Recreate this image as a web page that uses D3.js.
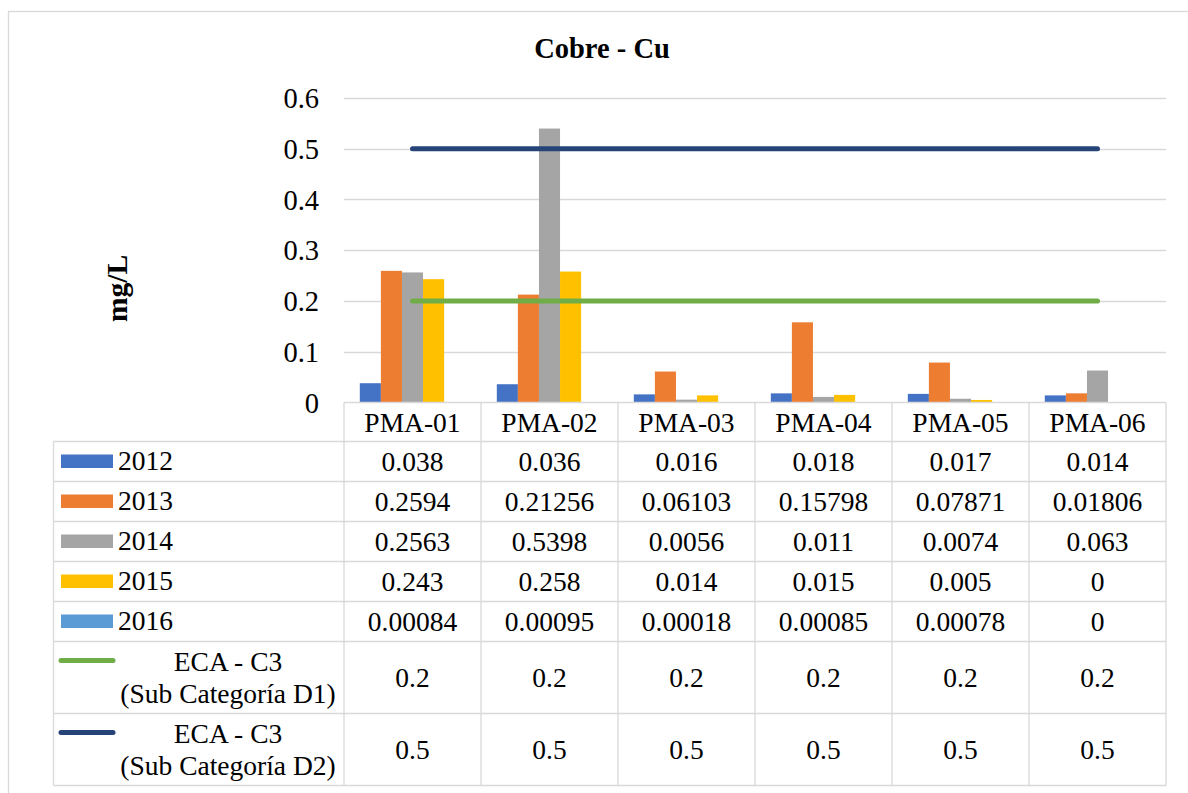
<!DOCTYPE html>
<html>
<head>
<meta charset="utf-8">
<script src="https://cdn.jsdelivr.net/npm/d3@7"></script>
<style>
  html, body { margin: 0; padding: 0; background: #fff; }
  svg { display: block; }
</style>
</head>
<body>
<svg id="chart" width="1188" height="793"></svg>
<script>
// ---- data ----
const categories = ["PMA-01", "PMA-02", "PMA-03", "PMA-04", "PMA-05", "PMA-06"];
const barSeriesNames = ["2012", "2013", "2014", "2015", "2016"];
const s2012 = [0.038, 0.036, 0.016, 0.018, 0.017, 0.014];
const s2013 = [0.2594, 0.21256, 0.06103, 0.15798, 0.07871, 0.01806];
const s2014 = [0.2563, 0.5398, 0.0056, 0.011, 0.0074, 0.063];
const s2015 = [0.243, 0.258, 0.014, 0.015, 0.005, 0];
const s2016 = [0.00084, 0.00095, 0.00018, 0.00085, 0.00078, 0];
const lineSeriesNames = [["ECA - C3", "(Sub Categoría D1)"], ["ECA - C3", "(Sub Categoría D2)"]];
const ecaD1 = [0.2, 0.2, 0.2, 0.2, 0.2, 0.2];
const ecaD2 = [0.5, 0.5, 0.5, 0.5, 0.5, 0.5];
const yTicks = [0, 0.1, 0.2, 0.3, 0.4, 0.5, 0.6];
const title = "Cobre - Cu";
const yLabel = "mg/L";

const barSeries = [s2012, s2013, s2014, s2015, s2016];
const lineSeries = [ecaD1, ecaD2];
const barColors = ["#4472C4", "#ED7D31", "#A5A5A5", "#FFC000", "#5B9BD5"];
const lineColors = ["#70AD47", "#264478"];

// ---- layout ----
const FONT = "Liberation Serif";
const svg = d3.select("#chart");
const plotL = 344, plotR = 1166, plotT = 98, plotB = 402.5;
const gridColor = "#D9D9D9";

function txt(sel) { return sel.style("font-family", FONT).attr("fill", "#000"); }

svg.append("rect").attr("x", 8.5).attr("y", 11.5).attr("width", 1200).attr("height", 800)
  .attr("fill", "#fff").attr("stroke", gridColor).attr("stroke-width", 1.3);

const x0 = d3.scaleBand().domain(categories).range([plotL, plotR]).paddingInner(0).paddingOuter(0);
const x1 = d3.scaleBand().domain(barSeriesNames).range([0, x0.bandwidth()]).paddingInner(0).paddingOuter(0.75);
const y = d3.scaleLinear().domain([0, 0.6]).range([plotB, plotT]);

// title
txt(svg.append("text")).attr("x", 602).attr("y", 58).attr("text-anchor", "middle")
  .attr("font-weight", "bold").attr("font-size", 28.5).text(title);

// y label
txt(svg.append("text")).attr("transform", "translate(127,288.5) rotate(-90)")
  .attr("text-anchor", "middle").attr("font-weight", "bold").attr("font-size", 29.5).text(yLabel);

// gridlines
svg.append("g").selectAll("line").data(yTicks.filter(d => d > 0)).join("line")
  .attr("x1", plotL).attr("x2", plotR)
  .attr("y1", d => Math.round(y(d)) + 0.5).attr("y2", d => Math.round(y(d)) + 0.5)
  .attr("stroke", gridColor).attr("stroke-width", 1.3);

// y axis tick labels via d3 axis
const yAxis = d3.axisLeft(y).tickValues(yTicks).tickSize(0).tickPadding(0).tickFormat(d => String(d));
const yg = svg.append("g").attr("transform", `translate(319,0)`).call(yAxis);
yg.select(".domain").remove();
txt(yg.selectAll("text")).attr("font-size", 28.5).attr("dy", "0.34em");

// bars
const barG = svg.append("g");
barSeries.forEach((vals, si) => {
  barG.append("g").selectAll("rect").data(vals).join("rect")
    .attr("x", (d, i) => x0(categories[i]) + x1(barSeriesNames[si]))
    .attr("width", x1.bandwidth())
    .attr("y", d => y(d))
    .attr("height", d => plotB - y(d))
    .attr("fill", barColors[si]);
});

// lines
const lineGen = d3.line().x((d, i) => x0(categories[i]) + x0.bandwidth() / 2).y(d => y(d));
lineSeries.forEach((vals, li) => {
  svg.append("path").datum(vals).attr("d", lineGen)
    .attr("fill", "none").attr("stroke", lineColors[li]).attr("stroke-width", 5)
    .attr("stroke-linecap", "round");
});

// ---- data table ----
const rowEdges = [402.5, 441.5, 481.5, 521.5, 561.5, 601.5, 641.5, 713.5, 785.5];
const tableL = 53.5;
const tbl = svg.append("g");
const fs = 27.5;

rowEdges.forEach((ry, i) => {
  tbl.append("line").attr("x1", i === 0 ? plotL : tableL).attr("x2", plotR)
    .attr("y1", ry).attr("y2", ry).attr("stroke", gridColor).attr("stroke-width", 1.3);
});
tbl.append("line").attr("x1", tableL).attr("x2", tableL).attr("y1", rowEdges[1]).attr("y2", rowEdges[8])
  .attr("stroke", gridColor).attr("stroke-width", 1.3);
const vxs = categories.map(c => x0(c)).concat([plotR]);
vxs.forEach(vx => {
  tbl.append("line").attr("x1", vx).attr("x2", vx).attr("y1", rowEdges[0]).attr("y2", rowEdges[8])
    .attr("stroke", gridColor).attr("stroke-width", 1.3);
});

// header labels
txt(tbl.selectAll("text.cat").data(categories).join("text").attr("class", "cat"))
  .attr("x", d => x0(d) + x0.bandwidth() / 2).attr("y", (rowEdges[0] + rowEdges[1]) / 2 + 9.5)
  .attr("text-anchor", "middle").attr("font-size", fs).text(d => d);

// bar series rows
barSeries.forEach((vals, si) => {
  const top = rowEdges[si + 1], bot = rowEdges[si + 2];
  const cy = (top + bot) / 2;
  tbl.append("rect").attr("x", 61).attr("y", cy - 7).attr("width", 52).attr("height", 13.5)
    .attr("fill", barColors[si]);
  txt(tbl.append("text")).attr("x", 118).attr("y", cy + 8.5).attr("font-size", fs).text(barSeriesNames[si]);
  txt(tbl.append("g").selectAll("text").data(vals).join("text"))
    .attr("x", (d, i) => x0(categories[i]) + x0.bandwidth() / 2).attr("y", cy + 9.5)
    .attr("text-anchor", "middle").attr("font-size", fs).text(d => String(d));
});

// line series rows
lineSeries.forEach((vals, li) => {
  const top = rowEdges[6 + li], bot = rowEdges[7 + li];
  const cy = (top + bot) / 2;
  tbl.append("line").attr("x1", 61).attr("x2", 113).attr("y1", cy - 17).attr("y2", cy - 17)
    .attr("stroke", lineColors[li]).attr("stroke-width", 5).attr("stroke-linecap", "round");
  lineSeriesNames[li].forEach((ln, k) => {
    txt(tbl.append("text")).attr("x", 228).attr("y", cy - 16 + k * 32 + 9.5)
      .attr("text-anchor", "middle").attr("font-size", fs).text(ln);
  });
  txt(tbl.append("g").selectAll("text").data(vals).join("text"))
    .attr("x", (d, i) => x0(categories[i]) + x0.bandwidth() / 2).attr("y", cy + 9.5)
    .attr("text-anchor", "middle").attr("font-size", fs).text(d => String(d));
});
</script>
</body>
</html>
